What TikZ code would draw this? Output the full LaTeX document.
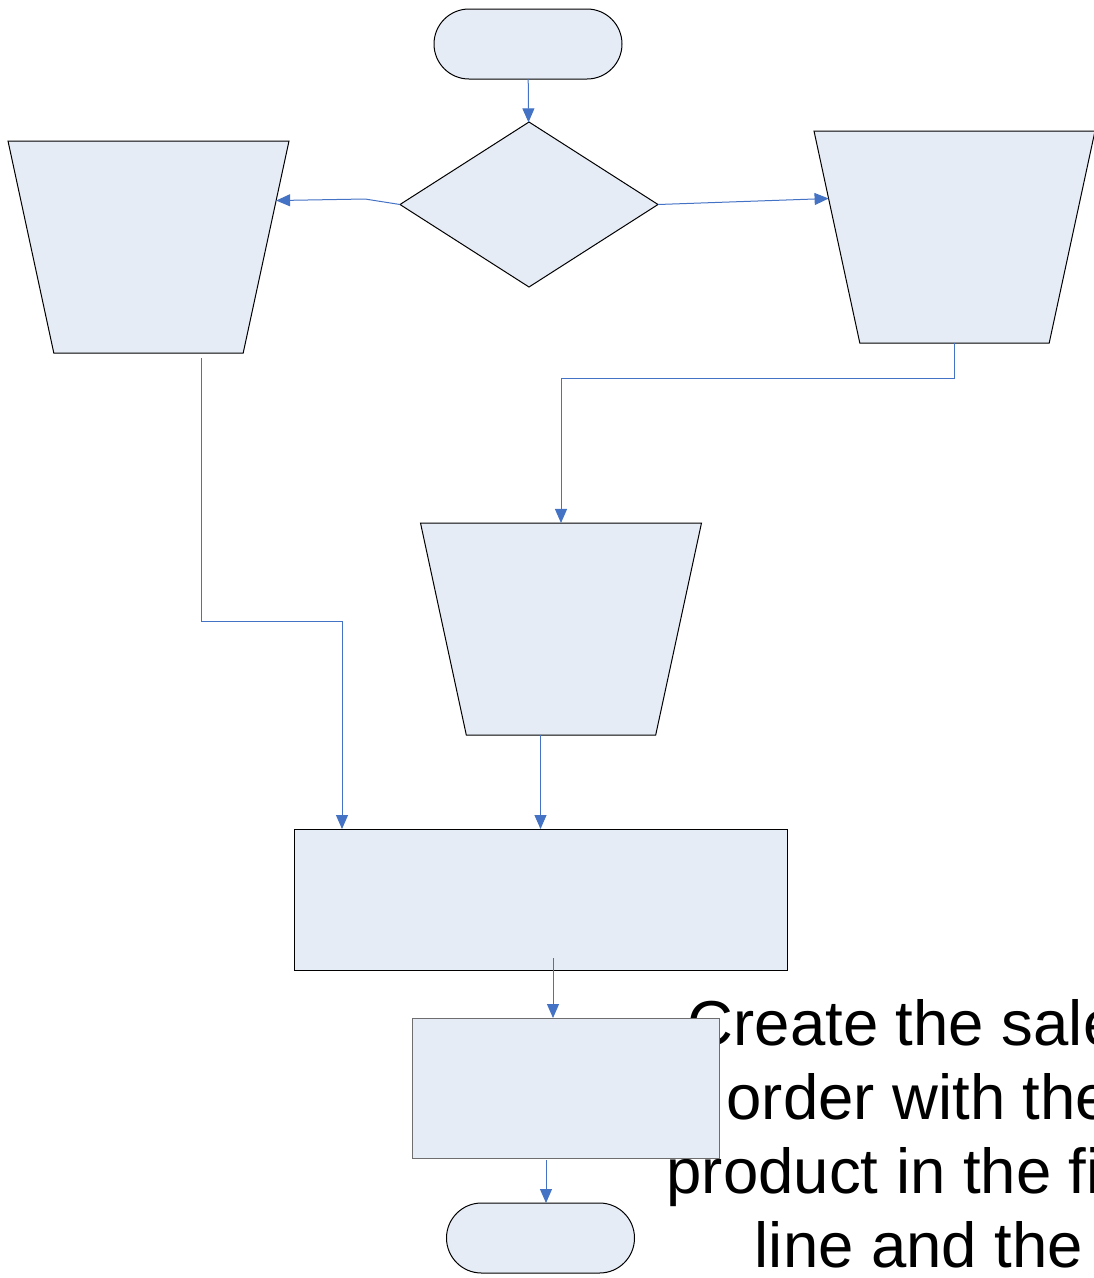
\documentclass[tikz,border=0pt]{standalone}
\usepackage{fontspec}
\setmainfont{Liberation Sans}
\usetikzlibrary{shapes.geometric,arrows.meta}
\definecolor{boxfill}{RGB}{230,236,246}
\definecolor{flowblue}{RGB}{68,114,196}

\begin{document}
\begin{tikzpicture}[x=1pt, y=-1pt, >={Triangle[length=14pt,width=12pt]},
	box/.style={draw, fill=boxfill, line width=1pt, inner sep=1pt, outer sep=0pt},
	term/.style={box, rounded corners=35pt, minimum width=188pt, minimum height=70pt},
	manual/.style={box, trapezium, shape border rotate=180, trapezium angle=76.4,
		trapezium stretches=true, minimum width=281pt, minimum height=212pt},
	flow/.style={draw=flowblue, line width=1pt}]
			\useasboundingbox (0,0) rectangle (1094,1278);
			\node[term] (st) at (528, 44) {};
			\node[box, diamond, minimum width=258pt, minimum height=165pt] (dc) at (529, 204.5) {};
			\node[manual] (ml) at (148.5, 247) {};
			\node[manual] (mr) at (954.5, 237) {};
			\node[manual] (mm) at (561, 629) {};
			\node[box, minimum width=493pt, minimum height=141pt] (pr) at (540.5, 899.5) {};
			\node[anchor=base, align=center, inner sep=0pt, font=\fontsize{63.5pt}{74pt}\selectfont] (tx) at (919, 1267)
				{Create the sales\\order with the\\product in the first\\line and the};
			\node[box, draw={rgb,255:red,110;green,110;blue,110}, minimum width=307pt, minimum height=140pt] (cf) at (565.5, 1088) {};
			\node[term] (en) at (540.5, 1238) {};
			\coordinate (lk) at (365, 199);
			\coordinate (ls) at (201, 358);
			\coordinate (ps) at (553, 958);
			\coordinate (cs) at (546, 1160);
			\draw[->, flow] (st) to (dc);
			\draw[->, flow] (dc.west) -- (lk) -- (ml.20.6);
			\draw[->, flow] (dc.east) -- (mr.163.6);
			\draw[->, flow] (mr.south) -- ++(0, 35) -| (mm.north);
			\draw[->, flow] (ls) -- ++(0, 263) -| ([xshift=48pt]pr.north west);
			\draw[->, flow] (pr.north |- mm.south) -- (pr.north);
			\draw[->, flow] (ps) -- (ps |- cf.north);
			\draw[->, flow] (cs) -- (cs |- en.north);
		\end{tikzpicture}
\end{document}
